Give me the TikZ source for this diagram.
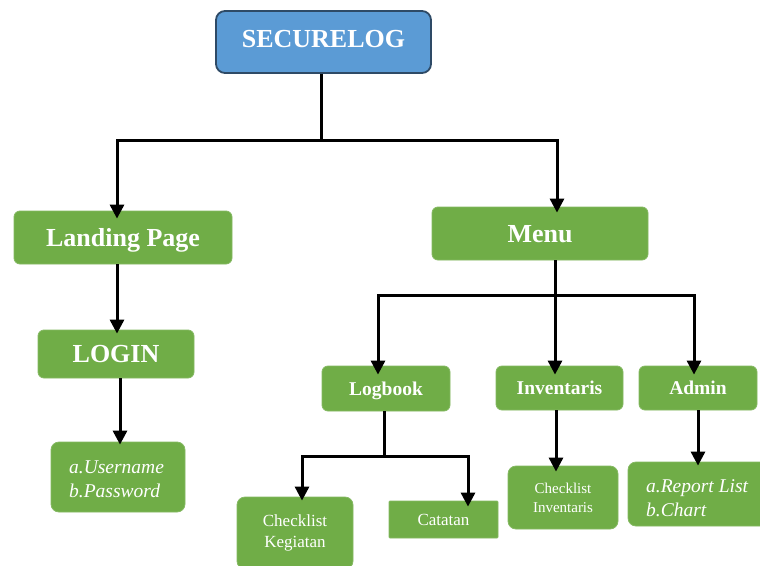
\documentclass[tikz,border=0pt]{standalone}
\usepackage{fontspec}
\setmainfont{Liberation Serif}
\usetikzlibrary{arrows.meta}
\definecolor{bluefill}{HTML}{5B9BD5}
\definecolor{blueline}{HTML}{2E4A66}
\definecolor{greenfill}{HTML}{70AD47}
\tikzset{
  gbox/.style={fill=greenfill, draw=greenfill!85!white, line width=0.8pt, rounded corners=6pt, text=white, align=center, inner sep=0pt},
  gtext/.style={text=white, align=left, inner sep=0pt, anchor=west, font=\itshape\fontsize{19.5}{23.5}\selectfont},
  conn/.style={line width=3pt, black},
  arr/.style={conn, -{Triangle[width=14pt,length=14pt]}},
}
\begin{document}
\begin{tikzpicture}[x=1pt,y=-1pt]
\clip (0,0) rectangle (760,565);
\fill[white] (0,0) rectangle (760,565);
% top
\node[fill=bluefill, draw=blueline, line width=1.8pt, rounded corners=9pt, text=white, minimum width=215pt, minimum height=62pt, inner sep=0pt, text depth=7pt, font=\bfseries\fontsize{26}{30}\selectfont] (sec) at (323.5,42) {SECURELOG};
% level 1
\node[gbox, minimum width=218pt, minimum height=53pt, text depth=0pt, font=\bfseries\fontsize{26}{30}\selectfont] (land) at (123,237.5) {Landing Page};
\node[gbox, minimum width=216pt, minimum height=53pt, text depth=0pt, font=\bfseries\fontsize{26}{30}\selectfont] (menu) at (540,233.5) {Menu};
% left column
\node[gbox, minimum width=156pt, minimum height=48pt, text depth=0pt, font=\bfseries\fontsize{26}{30}\selectfont] (login) at (116,354) {LOGIN};
\node[gbox, minimum width=134pt, minimum height=70pt, rounded corners=8pt] (user) at (118,477) {};
\node[gtext] (usertext) at (69,479) {a.Username\\b.Password};
% menu children
\node[gbox, minimum width=128pt, minimum height=45pt, text depth=0pt, font=\bfseries\fontsize{19.5}{24}\selectfont] (logb) at (386,388.5) {Logbook};
\node[gbox, minimum width=127pt, minimum height=44pt, text depth=0pt, font=\bfseries\fontsize{19.5}{24}\selectfont] (inv) at (559.5,388) {Inventaris};
\node[gbox, minimum width=118pt, minimum height=44pt, text depth=0pt, font=\bfseries\fontsize{19.5}{24}\selectfont] (adm) at (698,388) {Admin};
% level 3
\node[gbox, minimum width=116pt, minimum height=72pt, rounded corners=8pt, font=\fontsize{17}{21}\selectfont] (keg) at (295,533) {Checklist\\Kegiatan};
\node[gbox, minimum width=109pt, minimum height=37pt, rounded corners=1pt, text depth=0pt, font=\fontsize{17}{21}\selectfont] (cat) at (443.5,519.5) {Catatan};
\node[gbox, minimum width=110pt, minimum height=63pt, rounded corners=8pt, font=\fontsize{15}{19}\selectfont] (cinv) at (563,497.5) {Checklist\\Inventaris};
\node[gbox, minimum width=142pt, minimum height=64pt, rounded corners=8pt] (rep) at (699,494) {};
\node[gtext] (reptext) at (646,498) {a.Report List\\b.Chart};
% connectors top
\coordinate (jtop) at (321,140);
\draw[conn] (sec.south -| jtop) -- (jtop);
\draw[arr] (jtop) -| ([xshift=-6pt,yshift=-8pt]land.north);
\draw[arr] (jtop) -| ([xshift=17pt,yshift=-6pt]menu.north);
% left column
\draw[arr] ([xshift=-6pt]land.south) -- ([xshift=1pt,yshift=-4pt]login.north);
\draw[arr] ([xshift=4pt]login.south) -- ([xshift=2pt,yshift=-3pt]user.north);
% menu branch
\coordinate (jmenu) at (555,295);
\draw[conn] ([xshift=15pt]menu.south) -- (jmenu);
\draw[arr] (jmenu) -| ([xshift=-8pt,yshift=-9pt]logb.north);
\draw[arr] (jmenu) -- ([xshift=-4.5pt,yshift=-9pt]inv.north);
\draw[arr] (jmenu) -| ([xshift=-4pt,yshift=-9pt]adm.north);
% logbook branch
\coordinate (jlog) at (384,456);
\draw[conn] ([xshift=-2pt]logb.south) -- (jlog);
\draw[arr] (jlog) -| ([xshift=7pt,yshift=-4pt]keg.north);
\draw[arr] (jlog) -| ([xshift=24.5pt,yshift=-6pt]cat.north);
% other children
\draw[arr] ([xshift=-3.5pt]inv.south) -- ([xshift=-7pt,yshift=-6pt]cinv.north);
\draw[arr] (adm.south) -- ([xshift=-1pt,yshift=-4pt]rep.north);
\end{tikzpicture}
\end{document}
